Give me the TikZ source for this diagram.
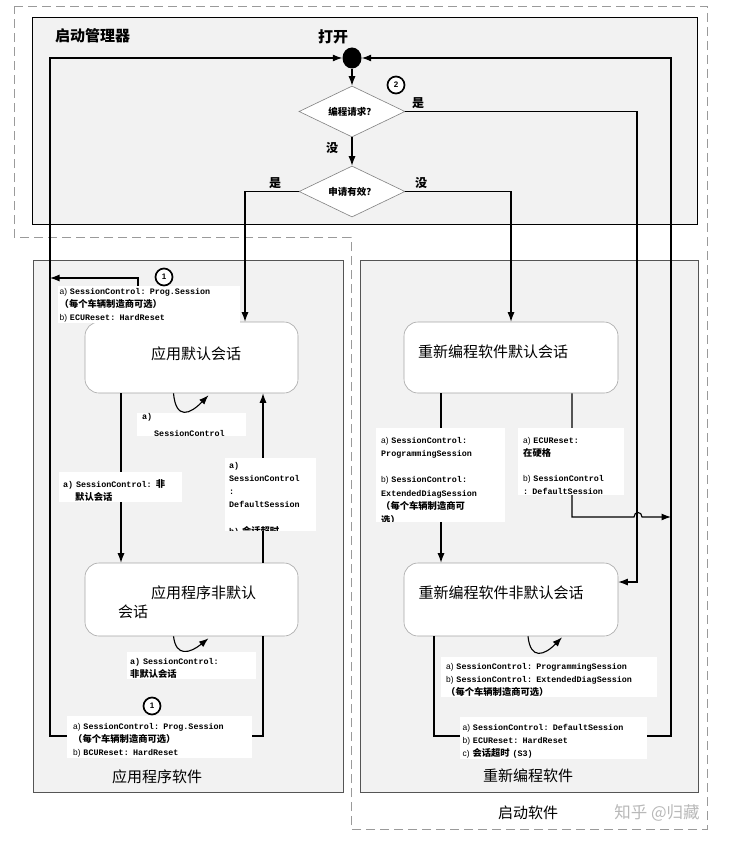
\documentclass[tikz,border=0pt]{standalone}
\usepackage{fontspec}
\setmainfont{Liberation Sans}
\newfontfamily\cjk{Noto Sans CJK SC}
\newfontfamily\mono{Liberation Mono}
\newfontfamily\sansf{Liberation Sans}
\usetikzlibrary{arrows.meta,calc,shapes.geometric}
\definecolor{panel}{HTML}{F2F2F2}
\definecolor{panelline}{HTML}{555555}
\definecolor{stateline}{HTML}{A6A6A6}
\definecolor{dashc}{HTML}{9A9A9A}
\newcommand\zh[1]{{\cjk\fontsize{9.3}{13}\selectfont #1}}
\newcommand\pre[1]{{\sansf\mdseries #1}}
\newcommand\ts[1]{\rule{0pt}{#1pt}}
\tikzset{
 arr/.style={-{Latex[length=9.5pt,width=7pt]}, line width=1.1pt, black},
 outline/.style={draw=dashc, line width=0.9pt, dash pattern=on 9pt off 5pt},
 panelbox/.style={draw=panelline, fill=panel, line width=1.3pt, anchor=north west, inner sep=0pt},
 statebox/.style={draw=stateline, fill=white, line width=0.6pt, rounded corners=14pt, inner sep=0pt},
 statetext/.style={font=\cjk\fontsize{15}{18}\selectfont, inner sep=0pt},
 title/.style={font=\cjk\fontsize{15}{18}\selectfont, inner sep=0pt},
 btitle/.style={font=\cjk\bfseries\fontsize{15}{18}\selectfont, inner sep=0pt},
 lbl/.style={fill=white, anchor=north west, align=left, inner ysep=1pt, font=\mono\bfseries\fontsize{8.4}{13}\selectfont},
 yesno/.style={font=\cjk\bfseries\fontsize{12}{14}\selectfont, inner sep=0pt},
 dec/.style={diamond, draw=gray, line width=0.6pt, fill=white, aspect=2, inner sep=0pt, minimum width=106pt, minimum height=51pt, font=\cjk\bfseries\fontsize{9.5}{11}\selectfont},
 num/.style={circle, draw=black, line width=1.7pt, fill=white, minimum size=17pt, inner sep=0pt, font=\sansf\bfseries\fontsize{8}{9}\selectfont},
}
\begin{document}
\begin{tikzpicture}[x=1pt,y=-1pt]
\useasboundingbox (0,0) rectangle (731,845);
% outer dashed outline
\draw[outline] (14,6) -- (707,6) -- (707,829) -- (351,829) -- (351,237) -- (14,237) -- cycle;
% panels
\node[panelbox, draw=black, minimum width=665pt, minimum height=207pt] (bm) at (32,17) {};
\node[panelbox, minimum width=310pt, minimum height=532pt] (appsw) at (33,260) {};
\node[panelbox, minimum width=338pt, minimum height=532pt] (repsw) at (360,260) {};
% titles
\node[btitle] (bmt) at (92.5,36) {启动管理器};
\node[btitle] (opent) at (333,37) {打开};
\node[title] (appt) at (157,777) {应用程序软件};
\node[title] (rept) at (528,776) {重新编程软件};
\node[title] (bst) at (528,813) {启动软件};
\node[font=\cjk\fontsize{16.5}{20}\selectfont, text=black!28, inner sep=0pt] (wm) at (657,813) {知乎 @归藏};
% states
\node[statebox, minimum width=213pt, minimum height=71pt] (ds1) at (191.5,357.5) {};
\node[statebox, minimum width=213pt, minimum height=73pt] (ns1) at (191.5,599.5) {};
\node[statebox, minimum width=214pt, minimum height=71pt] (ds2) at (511,357.5) {};
\node[statebox, minimum width=214pt, minimum height=73pt] (ns2) at (511,599.5) {};
\node[statetext] (ds1t) at (196,354) {应用默认会话};
\node[statetext] (ns1ta) at (203.5,593) {应用程序非默认};
\node[statetext] (ns1tb) at (133,612) {会话};
\node[statetext] (ds2t) at (493,352) {重新编程软件默认会话};
\node[statetext] (ns2t) at (501,593) {重新编程软件非默认会话};
% decisions and start
\node[dec] (d1) at (352,111.5) {编程请求？};
\node[dec] (d2) at (352,191.5) {申请有效？};
\node[ellipse, fill=black, minimum width=19pt, minimum height=21pt, inner sep=0pt] (start) at (352,58) {};
% connectors in boot manager
\draw[arr] (start.south) -- (d1.north);
\draw[arr] (d1.south) -- (d2.north);
\node[yesno] (no1) at (332,148) {没};
\coordinate (c1) at (637,582);
\draw[arr] (d1.east) -| (c1) -- (c1 -| ns2.east);
\node[yesno] (yes1) at (418,103) {是};
\draw[arr] (d2.west) -| (245,0 |- ds1.north);
\node[yesno] (yes2) at (275,183) {是};
\draw[arr] (d2.east) -| (ds2.north);
\node[yesno] (no2) at (421,183) {没};
% return loops to start
\draw[arr] (263,0 |- ns1.south) -- (263,736) -- (50,736) -- (50,0 |- start.west) -- (start.west);
\draw[arr] (434,0 |- ns2.south) -- (434,736) -- (671,736) -- (671,0 |- start.east) -- (start.east);
\draw[arr] (138,0 |- ds1.north) -- (138,278) -- (50,278);
% application transitions
\draw[arr] (121,0 |- ds1.south) -- (121,0 |- ns1.north);
\draw[arr] (263,0 |- ns1.north) -- (263,0 |- ds1.south);
\draw[arr] ($(ds1.south)+(-18,0)$) .. controls ($(ds1.south)+(-15.5,27)$) and ($(ds1.south)+(-1.5,21)$) .. ($(ds1.south)+(17,2)$);
\draw[arr] ($(ns1.south)+(-18,0)$) .. controls ($(ns1.south)+(-15.5,21)$) and ($(ns1.south)+(-1.5,17)$) .. ($(ns1.south)+(17,2)$);
% reprogramming transitions
\draw[arr] (441,0 |- ds2.south) -- (441,0 |- ns2.north);
\draw[arr] (572,0 |- ds2.south) -- (572,517) -- (634,517) .. controls (634,511) and (642,511) .. (642,517) -- (671,517);
\draw[arr] ($(ns2.south)+(17,0)$) .. controls ($(ns2.south)+(19.5,24)$) and ($(ns2.south)+(33.5,19)$) .. ($(ns2.south)+(51,1)$);
% labels
\node[lbl, inner xsep=1.5pt, text width=179pt] (l1) at (58,286) {\ts{7}\pre{a)} SessionControl: Prog.Session\\\zh{（每个车辆制造商可选）}\\\pre{b)} ECUReset: HardReset};
\node[lbl, inner xsep=5pt, inner ysep=0pt, text width=99pt] (l2) at (137,413) {\ts{6}a)\\[4pt]\hspace*{12pt}SessionControl};
\node[lbl, inner xsep=4pt, text width=115pt] (l3) at (59,472) {\ts{14}a) SessionControl: \zh{非}\\\hspace*{12pt}\zh{默认会话}};
\begin{scope}
\clip (225,458) rectangle (316,530);
\node[lbl, inner xsep=4pt, text width=83pt] (l4) at (225,458) {\ts{9}a)\\SessionControl\\:\\DefaultSession\\[14pt]b) \zh{会话超时}\\~};
\end{scope}
\node[lbl, inner xsep=3pt, text width=123pt] (l5) at (127,652) {\ts{11}a) SessionControl:\\\zh{非默认会话}};
\node[lbl, inner xsep=6pt, text width=173pt] (l6) at (67,716) {\ts{12}\pre{a)} SessionControl: Prog.Session\\\zh{（每个车辆制造商可选）}\\\pre{b)} BCUReset: HardReset};
\begin{scope}
\clip (376,428) rectangle (505,521);
\node[lbl, inner xsep=5pt, text width=119pt, font=\mono\bfseries\fontsize{8.4}{13.6}\selectfont] (r1) at (376,428) {\ts{14}\pre{a)} SessionControl:\\ProgrammingSession\\[12pt]\pre{b)} SessionControl:\\ExtendedDiagSession\\\zh{（每个车辆制造商可}\\\zh{选）}\\~};
\end{scope}
\node[lbl, inner xsep=5pt, text width=96pt] (r2) at (518,428) {\ts{14}\pre{a)} ECUReset:\\\zh{在硬格}\\[12pt]\pre{b)} SessionControl\\: DefaultSession};
\node[lbl, inner xsep=5pt, text width=206pt] (r3) at (441,657) {\ts{11}\pre{a)} SessionControl: ProgrammingSession\\\pre{b)} SessionControl: ExtendedDiagSession\\\zh{（每个车辆制造商可选）}};
\node[lbl, inner xsep=2.5pt, text width=182pt] (r4) at (460,717) {\ts{12}\pre{a)} SessionControl: DefaultSession\\\pre{b)} ECUReset: HardReset\\\pre{c)} \zh{会话超时} (S3)};
% numbered markers
\node[num] (n2) at (396,85) {2};
\node[num] (n1a) at (164,277) {1};
\node[num] (n1b) at (152,706) {1};
\end{tikzpicture}
\end{document}
